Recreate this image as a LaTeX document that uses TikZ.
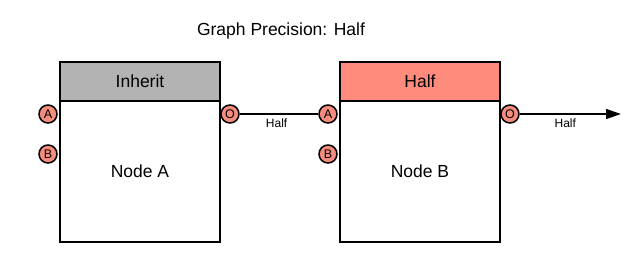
\documentclass[tikz,border=0pt]{standalone}
\usepackage{fontspec}
\setmainfont{Liberation Sans}
\usetikzlibrary{arrows.meta,positioning}
\definecolor{hdrgray}{HTML}{B3B3B3}
\definecolor{hdrred}{HTML}{FF8B7C}
\definecolor{portred}{HTML}{F58C7E}
\tikzset{
  gr/.style={x=1pt, y=-1pt, line width=1.8pt, every node/.style={font=\fontsize{17.5}{20}\selectfont}},
  body/.style={draw, rectangle, fill=white, minimum width=160pt, minimum height=180pt, inner sep=0pt},
  hdr/.style={draw, rectangle, minimum width=160pt, minimum height=39pt, inner sep=0pt, anchor=north},
  port/.style={draw, circle, fill=portred, minimum size=18pt, inner sep=0pt, line width=1.5pt, font=\fontsize{12.5}{13}\selectfont},
  wire/.style={line width=1.4pt},
  tag/.style={font=\fontsize{12}{13}\selectfont}
}
\begin{document}
\begin{tikzpicture}[gr]
\useasboundingbox (0,0) rectangle (642,273);
\node (title) at (281,31) {Graph Precision: Half};
% node A
\node[body] (nodeA) at (140,152) {};
\node[hdr, fill=hdrgray] (hdrA) at (nodeA.north) {Inherit};
\node at (140,171) {Node A};
\node[port] (inAa) at (48,114) {A};
\node[port] (inAb) at (48,154) {B};
\node[port] (outA) at (230,114) {O};
% node B
\node[body] (nodeB) at (420,152) {};
\node[hdr, fill=hdrred] (hdrB) at (nodeB.north) {Half};
\node at (420,171) {Node B};
\node[port] (inBa) at (328,114) {A};
\node[port] (inBb) at (328,154) {B};
\node[port] (outB) at (510,114) {O};
\coordinate (tip) at (621,114);
\draw[wire] (outA) -- node[tag, below=1pt, pos=0.47] {Half} (inBa);
\draw[wire, -{Triangle[length=15pt, width=10pt]}] (outB) -- node[tag, below=1pt, pos=0.45] {Half} (tip);
\end{tikzpicture}
\end{document}
